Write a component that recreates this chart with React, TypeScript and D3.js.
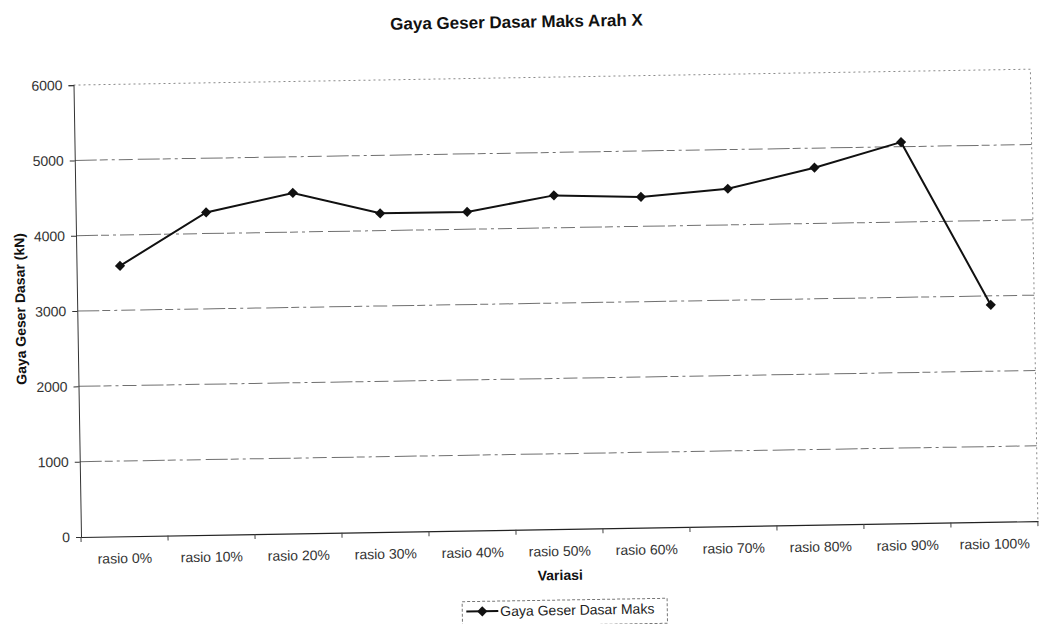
import React, { useEffect, useRef } from 'react'
import { scaleBand, scaleLinear, select, axisLeft, axisBottom, line, symbol, symbolSquare } from 'd3'

const categories = ['rasio 0%', 'rasio 10%', 'rasio 20%', 'rasio 30%', 'rasio 40%', 'rasio 50%',
    'rasio 60%', 'rasio 70%', 'rasio 80%', 'rasio 90%', 'rasio 100%']
const gayaGeser = [3590, 4280, 4520, 4230, 4230, 4430, 4390, 4480, 4740, 5060, 2880]
const yTicks = [0, 1000, 2000, 3000, 4000, 5000, 6000]

const chartTitle = 'Gaya Geser Dasar Maks Arah X'
const xTitle = 'Variasi'
const yTitle = 'Gaya Geser Dasar (kN)'
const seriesName = 'Gaya Geser Dasar Maks'

const font = '"Liberation Sans", Arial, sans-serif'

const App = () => {
    const chartRef = useRef<SVGSVGElement>(null)

    useEffect(() => {
        const width = 1042
        const height = 624
        const margin = { top: 85, right: 4, bottom: 87, left: 81 }
        const plotBottom = height - margin.bottom
        const plotRight = width - margin.right
        // the scanned page is turned about one degree
        const tilt = -0.95

        const svg = select(chartRef.current)
        svg.selectAll('*').remove()

        const g = svg.append('g')
            .attr('transform', `rotate(${tilt} ${margin.left} ${plotBottom})`)
            .style('font-family', font)

        const x = scaleBand().domain(categories).range([margin.left, plotRight])
        const y = scaleLinear().domain([0, 6000]).range([plotBottom, margin.top])
        const cx = (c: string) => (x(c) || 0) + x.bandwidth() / 2

        // gridlines (scanned, so broken up)
        g.append('g')
            .selectAll('line')
            .data(yTicks.filter(t => t > 0 && t < 6000))
            .enter()
            .append('line')
            .attr('x1', margin.left)
            .attr('x2', plotRight)
            .attr('y1', d => y(d))
            .attr('y2', d => y(d))
            .attr('stroke', '#707070')
            .attr('stroke-width', 1)
            .attr('stroke-dasharray', '22 3 8 4 3 4 14 5')

        // plot area border, top and right, dotted
        g.append('path')
            .attr('d', `M${margin.left},${y(6000)}H${plotRight}V${plotBottom}`)
            .attr('fill', 'none')
            .attr('stroke', '#8a8a8a')
            .attr('stroke-dasharray', '2 3')

        // y axis
        const yAxis = g.append('g')
            .attr('transform', `translate(${margin.left},0)`)
            .call(axisLeft(y).tickValues(yTicks).tickSize(5).tickPadding(6).tickFormat(d => String(d)))
        yAxis.select('.domain').attr('stroke', '#333')
        yAxis.selectAll('line').attr('stroke', '#333')
        yAxis.selectAll('text')
            .style('font-size', '14px')
            .style('font-family', font)
            .attr('fill', '#333')

        // x axis
        const xAxis = g.append('g')
            .attr('transform', `translate(0,${plotBottom})`)
            .call(axisBottom(x).tickSize(0).tickPadding(17))
        xAxis.select('.domain').attr('stroke', '#222').attr('stroke-width', 1.2)
        xAxis.selectAll('text')
            .style('font-size', '14px')
            .style('font-family', font)
            .attr('fill', '#333')

        g.append('g')
            .selectAll('line')
            .data([...categories.map(c => x(c) || 0), plotRight])
            .enter()
            .append('line')
            .attr('x1', d => d)
            .attr('x2', d => d)
            .attr('y1', plotBottom)
            .attr('y2', plotBottom + 5)
            .attr('stroke', '#444')

        // series
        const seriesLine = line<number>()
            .x((_, i) => cx(categories[i]))
            .y(d => y(d))

        g.append('path')
            .datum(gayaGeser)
            .attr('d', seriesLine)
            .attr('fill', 'none')
            .attr('stroke', '#111')
            .attr('stroke-width', 2)

        const diamond = symbol(symbolSquare, 52)
        g.append('g')
            .selectAll('path')
            .data(gayaGeser)
            .enter()
            .append('path')
            .attr('d', diamond)
            .attr('transform', (d, i) => `translate(${cx(categories[i])},${y(d)}) rotate(45)`)
            .attr('fill', '#111')

        // titles
        g.append('text')
            .attr('x', 525)
            .attr('y', 35)
            .attr('text-anchor', 'middle')
            .style('font-size', '17px')
            .style('font-weight', 'bold')
            .attr('fill', '#111')
            .text(chartTitle)

        g.append('text')
            .attr('x', (margin.left + plotRight) / 2)
            .attr('y', 588)
            .attr('text-anchor', 'middle')
            .style('font-size', '14px')
            .style('font-weight', 'bold')
            .attr('fill', '#111')
            .text(xTitle)

        g.append('text')
            .attr('transform', `translate(29,${(margin.top + plotBottom) / 2 - 3}) rotate(-90)`)
            .attr('text-anchor', 'middle')
            .style('font-size', '14px')
            .style('font-weight', 'bold')
            .attr('fill', '#111')
            .text(yTitle)

        // legend
        const legend = g.append('g').attr('transform', 'translate(461,608)')
        legend.append('rect')
            .attr('width', 205)
            .attr('height', 25)
            .attr('fill', 'white')
            .attr('stroke', '#777')
            .attr('stroke-dasharray', '3 2')
        legend.append('line')
            .attr('x1', 4)
            .attr('x2', 36)
            .attr('y1', 10)
            .attr('y2', 10)
            .attr('stroke', '#111')
            .attr('stroke-width', 2)
        legend.append('path')
            .attr('d', diamond)
            .attr('transform', 'translate(20,10) rotate(45)')
            .attr('fill', '#111')
        legend.append('text')
            .attr('x', 38)
            .attr('y', 15)
            .style('font-size', '14px')
            .attr('fill', '#222')
            .text(seriesName)
    }, [chartRef])

    return (
        <svg
            ref={chartRef}
            width={1042}
            height={624}
            style={{ position: 'absolute', left: 0, top: 0, background: 'white' }}
        />
    )
}

export default App
